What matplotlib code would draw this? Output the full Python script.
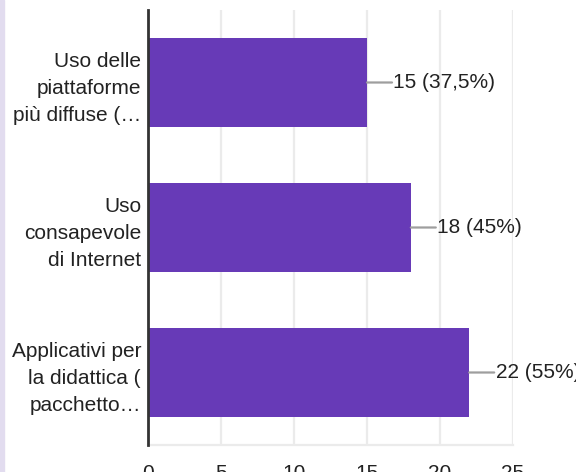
import matplotlib.pyplot as plt
from matplotlib.patches import Rectangle

plt.rcParams["font.family"] = ["Liberation Sans", "DejaVu Sans"]

# Data
categories = [
    "Uso delle\npiattaforme\npiù diffuse (…",
    "Uso\nconsapevole\ndi Internet",
    "Applicativi per\nla didattica (\npacchetto…",
]
counts = [15, 18, 22]
percents = ["37,5", "45", "55"]
x_ticks = [0, 5, 10, 15, 20, 25]

BAR_COLOR = "#673ab7"
TEXT_COLOR = "#222222"

fig = plt.figure(figsize=(5.76, 4.72), dpi=100)
ax = fig.add_axes([148 / 576, 1 - 445 / 472, (513 - 148) / 576, (445 - 10) / 472])

ypos = list(range(len(categories)))
ax.barh(ypos, counts, height=0.62, color=BAR_COLOR, zorder=3)
ax.set_ylim(len(categories) - 0.5, -0.5)
ax.set_xlim(0, 25)

# value labels with short leader line
for y, c, p in zip(ypos, counts, percents):
    ax.annotate("", xy=(c, y), xytext=(18, 0), textcoords="offset points",
                arrowprops=dict(arrowstyle="-", color="#9e9e9e", lw=1.6,
                                shrinkA=0, shrinkB=0),
                annotation_clip=False)
    ax.annotate(f"{c} ({p}%)", xy=(c, y), xytext=(19, 0), textcoords="offset points",
                va="center", ha="left", fontsize=15, color=TEXT_COLOR,
                annotation_clip=False)

ax.set_yticks(ypos)
ax.set_yticklabels(categories, fontsize=15, color=TEXT_COLOR, linespacing=1.55)
ax.set_xticks(x_ticks)
ax.set_xticklabels([str(t) for t in x_ticks], fontsize=15, color=TEXT_COLOR)
ax.tick_params(axis="y", length=0, pad=5)
ax.tick_params(axis="x", length=0, pad=14)

ax.grid(axis="x", color="#ebebeb", lw=1.6, zorder=0)
ax.set_axisbelow(True)
for s in ["top", "right"]:
    ax.spines[s].set_visible(False)
ax.spines["bottom"].set_color("#ebebeb")
ax.spines["bottom"].set_linewidth(1.6)
ax.spines["left"].set_color("#333333")
ax.spines["left"].set_linewidth(2.0)
ax.spines["left"].set_zorder(4)

# light side strip at the left edge of the screenshot
fig.patches.append(Rectangle((0, 0), 4 / 576, 1, transform=fig.transFigure,
                             color="#e2dcef", zorder=0))

fig.savefig("out.png", dpi=100)
